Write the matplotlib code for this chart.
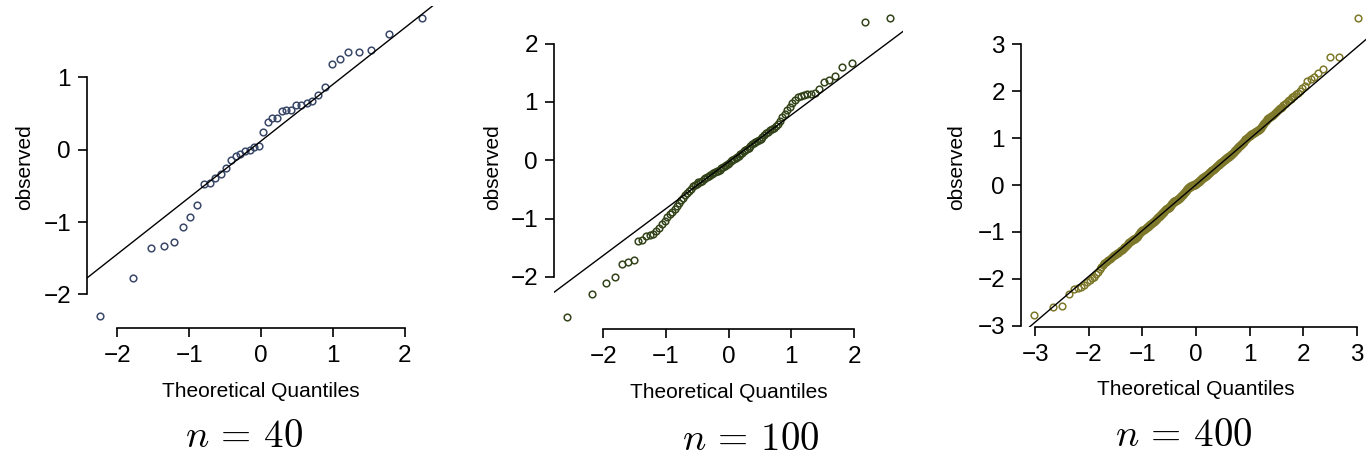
import numpy as np
import matplotlib
matplotlib.use("Agg")
import matplotlib.pyplot as plt
from statistics import NormalDist

plt.rcParams['font.family'] = ['Liberation Sans', 'DejaVu Sans']
plt.rcParams['mathtext.fontset'] = 'cm'

obs_40 = [-2.30, -1.78, -1.36, -1.33, -1.28, -1.07, -0.93, -0.76, -0.47, -0.46,
          -0.39, -0.34, -0.25, -0.14, -0.09, -0.06, -0.02, 0.00, 0.03, 0.05,
          0.25, 0.38, 0.44, 0.44, 0.54, 0.55, 0.55, 0.61, 0.61, 0.64,
          0.67, 0.75, 0.87, 1.19, 1.25, 1.35, 1.35, 1.38, 1.60, 1.82]

obs_100 = [-2.69, -2.29, -2.10, -2.01, -1.78, -1.74, -1.72, -1.39, -1.37, -1.30,
           -1.28, -1.26, -1.22, -1.16, -1.09, -1.04, -0.98, -0.93, -0.88, -0.83,
           -0.79, -0.74, -0.68, -0.64, -0.60, -0.56, -0.53, -0.49, -0.44, -0.42,
           -0.40, -0.38, -0.37, -0.35, -0.33, -0.31, -0.29, -0.27, -0.26, -0.24,
           -0.22, -0.21, -0.19, -0.18, -0.16, -0.14, -0.12, -0.10, -0.08, -0.06,
           -0.04, -0.02, 0.00, 0.02, 0.04, 0.06, 0.08, 0.10, 0.12, 0.15,
           0.17, 0.19, 0.21, 0.24, 0.28, 0.30, 0.32, 0.33, 0.35, 0.37,
           0.40, 0.43, 0.47, 0.49, 0.51, 0.53, 0.55, 0.58, 0.62, 0.68,
           0.74, 0.80, 0.86, 0.92, 0.98, 1.04, 1.09, 1.11, 1.12, 1.13,
           1.14, 1.16, 1.22, 1.34, 1.38, 1.45, 1.60, 1.67, 2.37, 2.44]

obs_400 = [
    -2.77, -2.60, -2.57, -2.32, -2.22, -2.20, -2.17, -2.12, -2.07, -2.03,
    -1.99, -1.95, -1.90, -1.85, -1.79, -1.74, -1.70, -1.67, -1.63, -1.61,
    -1.59, -1.57, -1.55, -1.53, -1.52, -1.50, -1.48, -1.46, -1.45, -1.44,
    -1.42, -1.41, -1.39, -1.38, -1.36, -1.35, -1.33, -1.31, -1.29, -1.27,
    -1.25, -1.24, -1.22, -1.21, -1.20, -1.19, -1.18, -1.17, -1.16, -1.15,
    -1.14, -1.13, -1.12, -1.11, -1.10, -1.08, -1.06, -1.04, -1.02, -1.00,
    -0.99, -0.98, -0.97, -0.96, -0.96, -0.95, -0.95, -0.94, -0.93, -0.92,
    -0.91, -0.90, -0.90, -0.89, -0.88, -0.87, -0.86, -0.85, -0.84, -0.83,
    -0.82, -0.81, -0.80, -0.80, -0.79, -0.79, -0.78, -0.77, -0.76, -0.75,
    -0.74, -0.73, -0.72, -0.71, -0.70, -0.69, -0.69, -0.68, -0.67, -0.66,
    -0.65, -0.64, -0.63, -0.62, -0.61, -0.60, -0.60, -0.59, -0.58, -0.57,
    -0.56, -0.55, -0.54, -0.53, -0.52, -0.52, -0.51, -0.51, -0.50, -0.50,
    -0.49, -0.49, -0.48, -0.47, -0.46, -0.45, -0.44, -0.43, -0.42, -0.41,
    -0.40, -0.39, -0.38, -0.37, -0.36, -0.36, -0.35, -0.35, -0.34, -0.34,
    -0.33, -0.33, -0.32, -0.32, -0.31, -0.31, -0.30, -0.30, -0.29, -0.29,
    -0.28, -0.28, -0.27, -0.26, -0.26, -0.25, -0.24, -0.23, -0.22, -0.21,
    -0.21, -0.20, -0.19, -0.18, -0.17, -0.16, -0.15, -0.14, -0.14, -0.13,
    -0.12, -0.11, -0.10, -0.09, -0.08, -0.07, -0.07, -0.06, -0.06, -0.05,
    -0.05, -0.04, -0.04, -0.03, -0.03, -0.03, -0.02, -0.02, -0.02, -0.01,
    -0.01, -0.01, 0.00, 0.00, 0.00, 0.01, 0.01, 0.02, 0.02, 0.03,
    0.03, 0.04, 0.04, 0.05, 0.05, 0.06, 0.06, 0.07,
    0.07, 0.08, 0.08, 0.09, 0.10, 0.10, 0.11, 0.12,
    0.12, 0.13, 0.14, 0.14, 0.15, 0.16, 0.16, 0.17,
    0.17, 0.18, 0.19, 0.19, 0.20, 0.20, 0.21, 0.21,
    0.22, 0.22, 0.23, 0.23, 0.24, 0.25, 0.25, 0.26,
    0.27, 0.27, 0.28, 0.29, 0.29, 0.30, 0.31,
    0.31, 0.32, 0.33, 0.33, 0.34, 0.35, 0.35, 0.36,
    0.37, 0.37, 0.38, 0.39, 0.39, 0.40, 0.41,
    0.41, 0.42, 0.43, 0.43, 0.44, 0.45, 0.45,
    0.46, 0.47, 0.47, 0.48, 0.49, 0.49, 0.50, 0.51,
    0.51, 0.52, 0.53, 0.53, 0.54, 0.55, 0.55,
    0.56, 0.57, 0.57, 0.58, 0.59, 0.59,
    0.60, 0.60, 0.61, 0.62, 0.62, 0.63, 0.64,
    0.64, 0.65, 0.66, 0.67, 0.68, 0.69,
    0.70, 0.71, 0.72, 0.73, 0.74, 0.75, 0.76,
    0.77, 0.78, 0.79, 0.80, 0.81,
    0.82, 0.83, 0.84, 0.85, 0.86, 0.87,
    0.88, 0.89, 0.90, 0.91, 0.92,
    0.93, 0.95, 0.97, 0.98, 0.99, 1.00,
    1.01, 1.02, 1.03, 1.04, 1.05,
    1.06, 1.07, 1.08, 1.08,
    1.09, 1.10, 1.10, 1.11, 1.12,
    1.13, 1.14, 1.15, 1.16,
    1.17, 1.18, 1.19, 1.20,
    1.22, 1.24, 1.26, 1.28,
    1.30, 1.32, 1.34, 1.36,
    1.38, 1.40, 1.42,
    1.43, 1.44, 1.46,
    1.47, 1.49, 1.51,
    1.53, 1.55,
    1.57, 1.59, 1.61,
    1.63, 1.65,
    1.67, 1.70,
    1.72, 1.75,
    1.78, 1.81,
    1.84, 1.87,
    1.90, 1.93, 1.96, 2.00, 2.06,
    2.10, 2.22, 2.26, 2.30, 2.38, 2.48, 2.72, 2.73, 3.55]

panels = [
    dict(obs=obs_40, col="#3a4868", xt=[-2, -1, 0, 1, 2], yt=[-2, -1, 0, 1],
         pos=[0.0637, 0.2854, 0.2548, 0.7015], ylab_x=-0.178, cap="$n\\,=\\,40$",
         cap_xy=(244, 455)),
    dict(obs=obs_100, col="#34441a", xt=[-2, -1, 0, 1, 2], yt=[-2, -1, 0, 1, 2],
         pos=[0.4056, 0.2832, 0.2555, 0.7037], ylab_x=-0.175, cap="$n\\,=\\,100$",
         cap_xy=(751, 458)),
    dict(obs=obs_400, col="#7d782a", xt=[-3, -2, -1, 0, 1, 2, 3], yt=[-3, -2, -1, 0, 1, 2, 3],
         pos=[0.7474, 0.2876, 0.2562, 0.6985], ylab_x=-0.183, cap="$n\\,=\\,400$",
         cap_xy=(1184, 454)),
]

W, H = 1366, 459
fig = plt.figure(figsize=(W / 100, H / 100), dpi=100)
nd = NormalDist()


def ppoints(n):
    a = 3 / 8 if n <= 10 else 0.5
    return [(i + 1 - a) / (n + 1 - 2 * a) for i in range(n)]


def padded(v):
    r = v.max() - v.min()
    return v.min() - 0.04 * r, v.max() + 0.04 * r


for p in panels:
    ax = fig.add_axes(p["pos"])
    y = np.sort(np.array(p["obs"]))
    x = np.array([nd.inv_cdf(q) for q in ppoints(len(y))])
    ax.plot(x, y, 'o', ms=4.8, mfc='none', mec=p["col"], mew=1.1, zorder=2)

    # qqline through the quartiles
    qy = np.quantile(y, [0.25, 0.75])
    qx = np.array([nd.inv_cdf(0.25), nd.inv_cdf(0.75)])
    slope = (qy[1] - qy[0]) / (qx[1] - qx[0])
    inter = qy[0] - slope * qx[0]
    ax.axline((0, inter), slope=slope, color='black', lw=1.0, zorder=3)

    ax.set_xlim(padded(x))
    ax.set_ylim(padded(y))

    for s in ['top', 'right']:
        ax.spines[s].set_visible(False)
    ax.spines['left'].set_bounds(p["yt"][0], p["yt"][-1])
    ax.spines['bottom'].set_bounds(p["xt"][0], p["xt"][-1])
    ax.spines['left'].set_linewidth(1.2)
    ax.spines['bottom'].set_linewidth(1.2)
    ax.set_xticks(p["xt"])
    ax.set_yticks(p["yt"])
    ax.tick_params(length=6.5, width=1.2, labelsize=17.5, pad=5)
    ax.tick_params(axis='x', pad=6)

    ax.set_xlabel("Theoretical Quantiles", fontsize=15)
    ax.xaxis.set_label_coords(0.5, -0.196)
    ax.xaxis.label.set_va('center')
    ax.set_ylabel("observed", fontsize=15)
    ax.yaxis.set_label_coords(p["ylab_x"], 0.5)
    ax.yaxis.label.set_va('center')

    # caption under each panel; bottom of the text box kept inside the figure
    cx, cy = p["cap_xy"]
    fig.text(cx / W, 1 - cy / H, p["cap"], fontsize=28, ha='center', va='bottom')

fig.savefig("out.png", dpi=100)
